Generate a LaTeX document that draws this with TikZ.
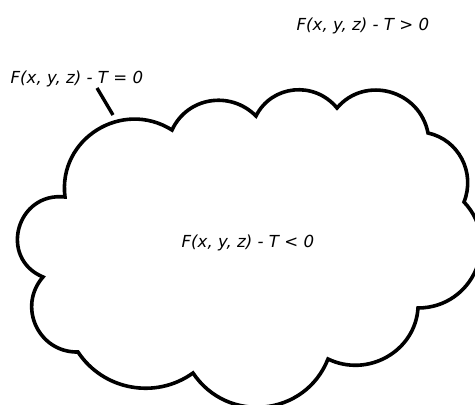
\documentclass[tikz,border=0pt]{standalone}
\usepackage{fontspec}
\setmainfont{DejaVu Sans}
\usetikzlibrary{calc}

\tikzset{
  cloudline/.style={line width=3.6pt, line join=miter},
  leader/.style={line width=3.4pt},
  eqlabel/.style={anchor=base west, inner sep=0pt, font=\fontsize{16.6}{20}\selectfont\itshape}
}

\begin{document}
\begin{tikzpicture}[x=1pt, y=-1pt]
\useasboundingbox (0,0) rectangle (475,405);

% cusps of the cloud, clockwise from the left
\coordinate (c1)  at (65,197);
\coordinate (c2)  at (172,130);
\coordinate (c3)  at (256,116);
\coordinate (c4)  at (337,108);
\coordinate (c5)  at (428,133);
\coordinate (c6)  at (464,202);
\coordinate (c7)  at (418,308);
\coordinate (c8)  at (328,359);
\coordinate (c9)  at (193,373);
\coordinate (c10) at (78,352);
\coordinate (c11) at (43,277);
% top of each bump
\coordinate (p1)  at (97,130);
\coordinate (p2)  at (210,101);
\coordinate (p3)  at (294,90);
\coordinate (p4)  at (390,92);
\coordinate (p5)  at (462,159);
\coordinate (p6)  at (476,270);
\coordinate (p7)  at (387,357);
\coordinate (p8)  at (265,407);
\coordinate (p9)  at (131,387);
\coordinate (p10) at (36,326);
\coordinate (p11) at (19,228);

% the cloud: a round arc per pair of cusps (\k = (1-(h/a)^2)/3)
\draw[cloudline] (c1)
  \foreach \i/\j/\k [evaluate=\k as \ka using 1/3-\k,
                     evaluate=\k as \kc using 2/3-\k] in
    {1/2/0.199, 2/3/0.244, 3/4/0.236, 4/5/0.199, 5/6/0.262, 6/7/0.189,
     7/8/0.236, 8/9/0.212, 9/10/0.272, 10/11/0.192, 11/1/0.083} {
    .. controls ($\ka*(c\i) - \kc*(c\j) + 1.333*(p\i)$)
            and ($\ka*(c\j) - \kc*(c\i) + 1.333*(p\i)$) .. (c\j)
  } -- cycle;

% labels
\node[eqlabel] (surf)   at (10.5,83)  {F(x, y, z) - T = 0};
\node[eqlabel] (outer)  at (296.5,30) {F(x, y, z) - T > 0};
\node[eqlabel] (inner)  at (181.5,247) {F(x, y, z) - T < 0};

% leader from the surface label to the cloud
\coordinate (lead1) at (97,88);
\coordinate (lead2) at (113,115);
\draw[leader] (lead1) -- (lead2);
\end{tikzpicture}
\end{document}
